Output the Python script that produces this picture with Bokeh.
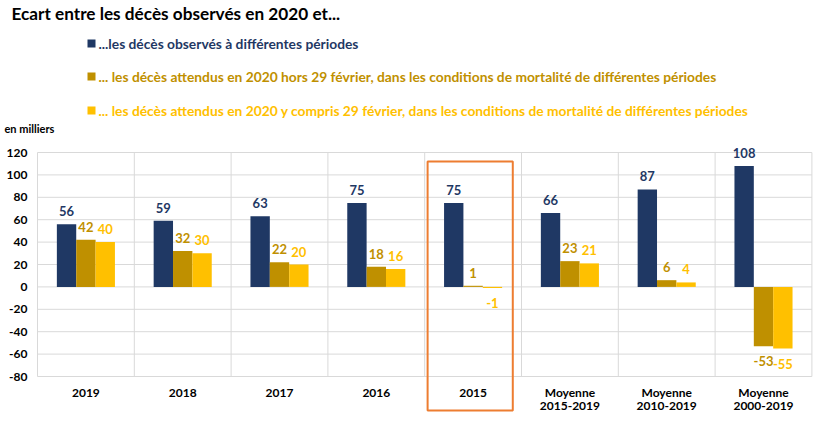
from bokeh.plotting import figure
from bokeh.models import Range1d, ColumnDataSource
from bokeh.core.properties import value
from bokeh.embed import file_html
from bokeh.resources import INLINE

# ---------------- data ----------------
categories = ["2019", "2018", "2017", "2016", "2015",
              "Moyenne\n2015-2019", "Moyenne\n2010-2019", "Moyenne\n2000-2019"]
observed = [56, 59, 63, 75, 75, 66, 87, 108]
expected_excl_feb29 = [42, 32, 22, 18, 1, 23, 6, -53]
expected_incl_feb29 = [40, 30, 20, 16, -1, 21, 4, -55]
y_ticks = [-80, -60, -40, -20, 0, 20, 40, 60, 80, 100, 120]
series_labels = [
    "...les décès observés à différentes périodes",
    "... les décès attendus en 2020 hors 29 février, dans les conditions de mortalité de différentes périodes",
    "... les décès attendus en 2020 y compris 29 février, dans les conditions de mortalité de différentes périodes",
]
title_text = "Ecart entre les décès observés en 2020 et..."
unit_text = "en milliers"
highlight = "2015"

# ---------------- style / layout ----------------
colors = ["#1F3864", "#BF9000", "#FFC000"]
FONT = "Lato"
W, H = 813, 412
PX_CAT = 96.8          # pixels per category
X0_PX = 37             # figure px of the first category boundary
PX_UNIT = 1.12         # pixels per unit
Y120_PX = 152          # figure px of the 120 gridline


def fx(px):
    return (px - X0_PX) / PX_CAT


def fy(py):
    return 120 + (Y120_PX - py) / PX_UNIT


p = figure(width=W, height=H, output_backend="svg", toolbar_location=None,
           x_range=Range1d(fx(0), fx(W)), y_range=Range1d(fy(H), fy(0)),
           x_axis_location=None, y_axis_location=None,
           min_border=0)
p.outline_line_color = None
p.xgrid.visible = False
p.ygrid.visible = False

n = len(categories)
centers = [i + 0.5 for i in range(n)]
grid_col = "#D9D9D9"

# horizontal gridlines + y tick labels (from the tick list)
p.segment(x0=[0] * len(y_ticks), x1=[n] * len(y_ticks), y0=y_ticks, y1=y_ticks,
          line_color=grid_col, line_width=1)
p.text(x=[fx(27)] * len(y_ticks), y=y_ticks, text=[str(t) for t in y_ticks],
       text_align="right", text_baseline="middle", text_font=value(FONT),
       text_font_style="bold", text_font_size="12px", text_color="#000000")

# vertical category separators
bx = list(range(n + 1))
p.segment(x0=bx, x1=bx, y0=[min(y_ticks)] * (n + 1), y1=[max(y_ticks)] * (n + 1),
          line_color=grid_col, line_width=1)

series = [observed, expected_excl_feb29, expected_incl_feb29]
offsets = [-0.2, 0.0, 0.2]
for vals, off, col in zip(series, offsets, colors):
    xs = [c + off for c in centers]
    src = ColumnDataSource(dict(x=xs, top=vals, lab=[str(v) for v in vals],
                                yo=[-13 if v >= 0 else 15 for v in vals]))
    p.vbar(x="x", top="top", bottom=0, width=0.2, source=src,
           fill_color=col, line_color=None)
    p.text(x="x", y="top", text="lab", y_offset="yo", source=src,
           text_align="center", text_baseline="middle",
           text_font=value(FONT), text_font_style="bold",
           text_font_size="13px", text_color=col)

# category labels
line1 = [c.split("\n")[0] for c in categories]
line2 = [c.split("\n")[1] if "\n" in c else "" for c in categories]
for lines, py in ((line1, 392), (line2, 405)):
    p.text(x=centers, y=[fy(py)] * n, text=lines,
           text_align="center", text_baseline="middle",
           text_font=value(FONT), text_font_style="bold",
           text_font_size="12px", text_color="#000000")

# highlight box around the highlighted category
hi = categories.index(highlight)
p.quad(left=[hi + 0.03], right=[hi + 0.91], top=[fy(161)], bottom=[fy(410)],
       fill_color=None, line_color="#ED7D31", line_width=2)

# title, legend, unit
p.text(x=[fx(11)], y=[fy(13)], text=[title_text], text_baseline="middle",
       text_font=value(FONT), text_font_style="bold", text_font_size="17.2px",
       text_color="#000000")
leg_y = [fy(43), fy(76), fy(110)]
p.scatter(x=[fx(91)] * 3, y=leg_y, marker="square", size=8,
          fill_color=colors, line_color=None)
p.text(x=[fx(98)] * 3, y=leg_y, text=series_labels, text_baseline="middle",
       text_font=value(FONT), text_font_style="bold", text_font_size="13.8px",
       text_color=colors)
p.text(x=[fx(4)], y=[fy(128)], text=[unit_text], text_baseline="middle",
       text_font=value(FONT), text_font_style="bold", text_font_size="11px",
       text_color="#000000")

open("out.html", "w").write(file_html(p, INLINE))
